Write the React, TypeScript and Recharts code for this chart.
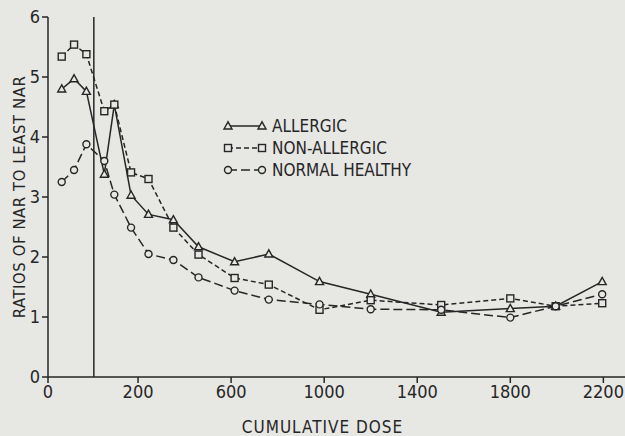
import React from "react"
import { LineChart, Line, XAxis, YAxis, ReferenceLine, Label } from "recharts"

// doses left of 0 are the pre-challenge readings (drawn left of the vertical line)
const doses = [-128, -75, -22, 55, 98, 170, 245, 352, 460, 615, 762, 980, 1200, 1503, 1800, 1995, 2195]
const allergic = [4.8, 4.97, 4.76, 3.38, 4.54, 3.03, 2.71, 2.62, 2.17, 1.92, 2.05, 1.59, 1.38, 1.08, 1.14, 1.18, 1.59]
const nonAllergic = [5.34, 5.54, 5.38, 4.43, 4.54, 3.41, 3.3, 2.49, 2.04, 1.65, 1.54, 1.12, 1.28, 1.2, 1.31, 1.18, 1.23]
const normalHealthy = [3.25, 3.45, 3.88, 3.6, 3.04, 2.49, 2.05, 1.95, 1.66, 1.44, 1.29, 1.21, 1.13, 1.12, 0.99, 1.18, 1.38]

const xTickValues = [-187, 200, 600, 1000, 1400, 1800, 2200]
const xTickLabels = ["0", "200", "600", "1000", "1400", "1800", "2200"]
const yTicks = [0, 1, 2, 3, 4, 5, 6]

const INK = "#262626"
const PAPER = "#e7e7e4"
const FONT = "'Liberation Sans Narrow', 'DejaVu Sans Condensed', 'Roboto', sans-serif"

const data = doses.map((d, i) => ({
    dose: d,
    allergic: allergic[i],
    nonAllergic: nonAllergic[i],
    normal: normalHealthy[i],
}))

type Shape = "triangle" | "square" | "circle"

const Marker = ({ cx, cy, shape }: { cx: number; cy: number; shape: Shape }) => {
    if (cx == null || cy == null) return null
    if (shape === "triangle")
        return (
            <polygon
                points={`${cx},${cy - 4.2} ${cx - 4},${cy + 3} ${cx + 4},${cy + 3}`}
                fill={PAPER}
                stroke={INK}
                strokeWidth={1.4}
            />
        )
    if (shape === "square")
        return <rect x={cx - 3.5} y={cy - 3.5} width={7} height={7} fill={PAPER} stroke={INK} strokeWidth={1.4} />
    return <circle cx={cx} cy={cy} r={3.5} fill={PAPER} stroke={INK} strokeWidth={1.4} />
}

const series = [
    { key: "allergic", name: "ALLERGIC", shape: "triangle" as Shape, dash: undefined },
    { key: "nonAllergic", name: "NON-ALLERGIC", shape: "square" as Shape, dash: "5 3" },
    { key: "normal", name: "NORMAL HEALTHY", shape: "circle" as Shape, dash: "9 4" },
]

// legend drawn as an overlay so it doesn't take space from the plot
const LegendBox = () => (
    <svg width={200} height={68} style={{ position: "absolute", left: 222, top: 115 }}>
        {series.map((s, i) => (
            <g key={s.key} transform={`translate(0, ${i * 22})`}>
                <line x1={6} x2={40} y1={11} y2={11} stroke={INK} strokeWidth={1.4} strokeDasharray={s.dash} />
                <Marker cx={6} cy={11} shape={s.shape} />
                <Marker cx={40} cy={11} shape={s.shape} />
                <text x={50} y={17} fontSize={17} fontFamily={FONT} fill={INK}>
                    {s.name}
                </text>
            </g>
        ))}
    </svg>
)

const XTitle = (props: any) => {
    const vb = props.viewBox || { x: 48, y: 377, width: 577, height: 59 }
    return (
        <text
            x={vb.x + vb.width / 2 - 14}
            y={vb.y + vb.height - 3}
            textAnchor="middle"
            fontSize={17}
            letterSpacing={1}
            fontFamily={FONT}
            fill={INK}
        >
            CUMULATIVE DOSE
        </text>
    )
}

const YTitle = (props: any) => {
    const vb = props.viewBox || { x: 0, y: 17, width: 48, height: 360 }
    const x = vb.x + 19
    const y = vb.y + vb.height / 2
    return (
        <text
            x={x}
            y={y}
            transform={`rotate(-90, ${x}, ${y})`}
            textAnchor="middle"
            dominantBaseline="central"
            fontSize={16.5}
            letterSpacing={0.6}
            fontFamily={FONT}
            fill={INK}
        >
            RATIOS OF NAR TO LEAST NAR
        </text>
    )
}

export default function App() {
    return (
        <div style={{ position: "absolute", left: 0, top: 0, width: 625, height: 436, background: PAPER }}>
            <LineChart width={625} height={436} data={data} margin={{ top: 17, right: 0, bottom: 0, left: 0 }}>
                <XAxis
                    type="number"
                    dataKey="dose"
                    domain={[-187, 2293]}
                    ticks={xTickValues}
                    tickFormatter={(v: number) => xTickLabels[xTickValues.indexOf(v)] ?? String(v)}
                    allowDataOverflow
                    height={59}
                    tickSize={6}
                    tickMargin={2}
                    stroke={INK}
                    strokeWidth={1.5}
                    tick={{ fontSize: 18, fontFamily: FONT, fill: INK }}
                >
                    <Label content={<XTitle />} />
                </XAxis>
                <YAxis
                    type="number"
                    domain={[0, 6]}
                    ticks={yTicks}
                    width={48}
                    tickSize={6}
                    tickMargin={2}
                    stroke={INK}
                    strokeWidth={1.5}
                    tick={{ fontSize: 18, fontFamily: FONT, fill: INK }}
                >
                    <Label content={<YTitle />} />
                </YAxis>
                <ReferenceLine x={10} stroke={INK} strokeWidth={1.5} />
                {series.map((s) => (
                    <Line
                        key={s.key}
                        type="linear"
                        dataKey={s.key}
                        name={s.name}
                        stroke={INK}
                        strokeWidth={1.5}
                        strokeDasharray={s.dash}
                        isAnimationActive={false}
                        dot={(p: any) => <Marker key={`${s.key}-${p.index}`} cx={p.cx} cy={p.cy} shape={s.shape} />}
                        activeDot={false}
                    />
                ))}
            </LineChart>
            <LegendBox />
        </div>
    )
}
